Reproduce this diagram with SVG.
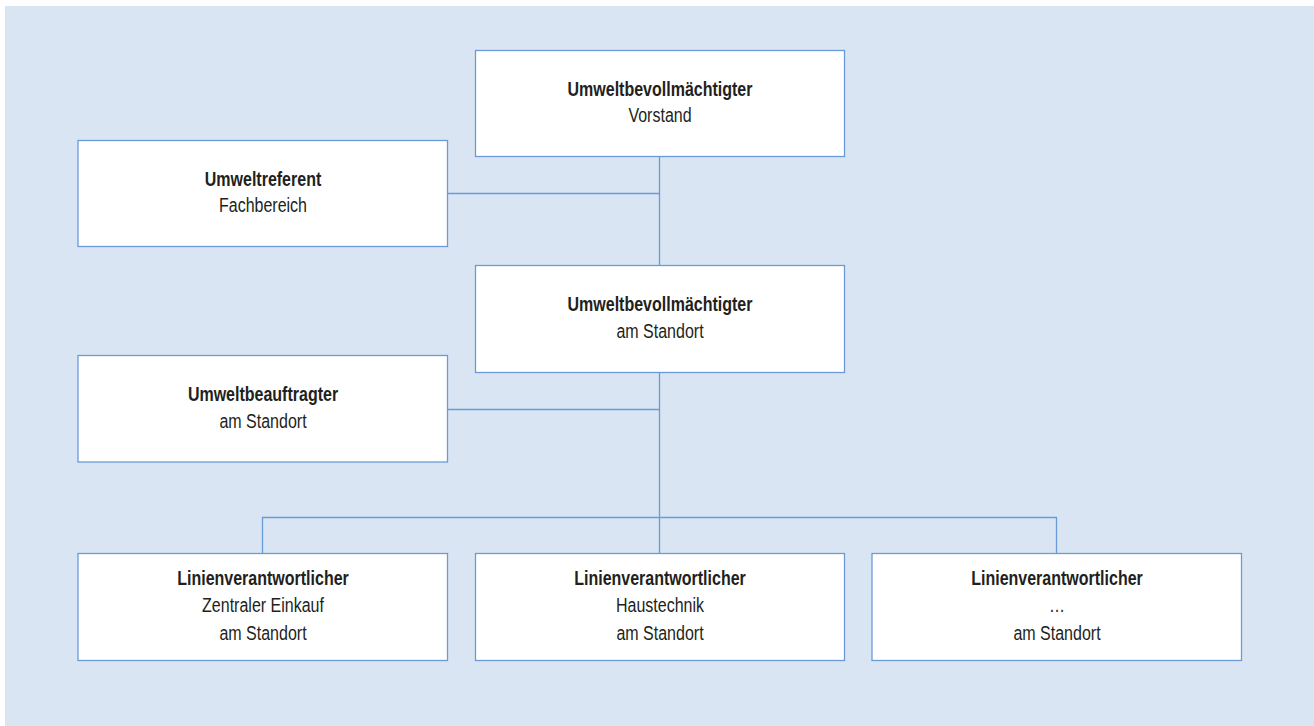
<svg xmlns="http://www.w3.org/2000/svg" width="1314" height="726" viewBox="0 0 1314 726">
  <style>
    .box { fill: #ffffff; stroke: #6a9bd8; stroke-width: 1.3; }
    .conn { fill: none; stroke: #6a9bd8; stroke-width: 1.3; }
    text { font-family: "Liberation Sans", Arial, sans-serif; font-size: 20px; fill: #231f20; text-anchor: middle; }
    .t { font-weight: bold; }
  </style>
  <rect x="5" y="6" width="1309" height="720" fill="#dae5f3"/>
  <g id="connectors">
    <path class="conn" d="M659.5 156.5 V265.5 M447.5 193.5 H659.5"/>
    <path class="conn" d="M659.5 372.5 V553.5 M447.5 409.5 H659.5"/>
    <path class="conn" d="M262.5 553.5 V517.5 H1056.5 V553.5"/>
  </g>
  <g id="n1">
    <rect class="box" x="475.5" y="50.5" width="369" height="106"/>
    <g transform="translate(660 0) scale(0.8 1)">
      <text class="t" x="0" y="96">Umweltbevollmächtigter</text>
      <text x="0" y="122">Vorstand</text>
    </g>
  </g>
  <g id="n2">
    <rect class="box" x="78" y="140.5" width="369.5" height="106"/>
    <g transform="translate(263 0) scale(0.8 1)">
      <text class="t" x="0" y="186">Umweltreferent</text>
      <text x="0" y="212">Fachbereich</text>
    </g>
  </g>
  <g id="n3">
    <rect class="box" x="475.5" y="265.5" width="369" height="107"/>
    <g transform="translate(660 0) scale(0.8 1)">
      <text class="t" x="0" y="311">Umweltbevollmächtigter</text>
      <text x="0" y="338">am Standort</text>
    </g>
  </g>
  <g id="n4">
    <rect class="box" x="78" y="355.5" width="369.5" height="106.5"/>
    <g transform="translate(263 0) scale(0.8 1)">
      <text class="t" x="0" y="401">Umweltbeauftragter</text>
      <text x="0" y="428">am Standort</text>
    </g>
  </g>
  <g id="n5">
    <rect class="box" x="78" y="553.5" width="369.5" height="107"/>
    <g transform="translate(263 0) scale(0.8 1)">
      <text class="t" x="0" y="585">Linienverantwortlicher</text>
      <text x="0" y="612">Zentraler Einkauf</text>
      <text x="0" y="640">am Standort</text>
    </g>
  </g>
  <g id="n6">
    <rect class="box" x="475.5" y="553.5" width="369" height="107"/>
    <g transform="translate(660 0) scale(0.8 1)">
      <text class="t" x="0" y="585">Linienverantwortlicher</text>
      <text x="0" y="612">Haustechnik</text>
      <text x="0" y="640">am Standort</text>
    </g>
  </g>
  <g id="n7">
    <rect class="box" x="872" y="553.5" width="369.5" height="107"/>
    <g transform="translate(1057 0) scale(0.8 1)">
      <text class="t" x="0" y="585">Linienverantwortlicher</text>
      <text x="0" y="612">…</text>
      <text x="0" y="640">am Standort</text>
    </g>
  </g>
</svg>
